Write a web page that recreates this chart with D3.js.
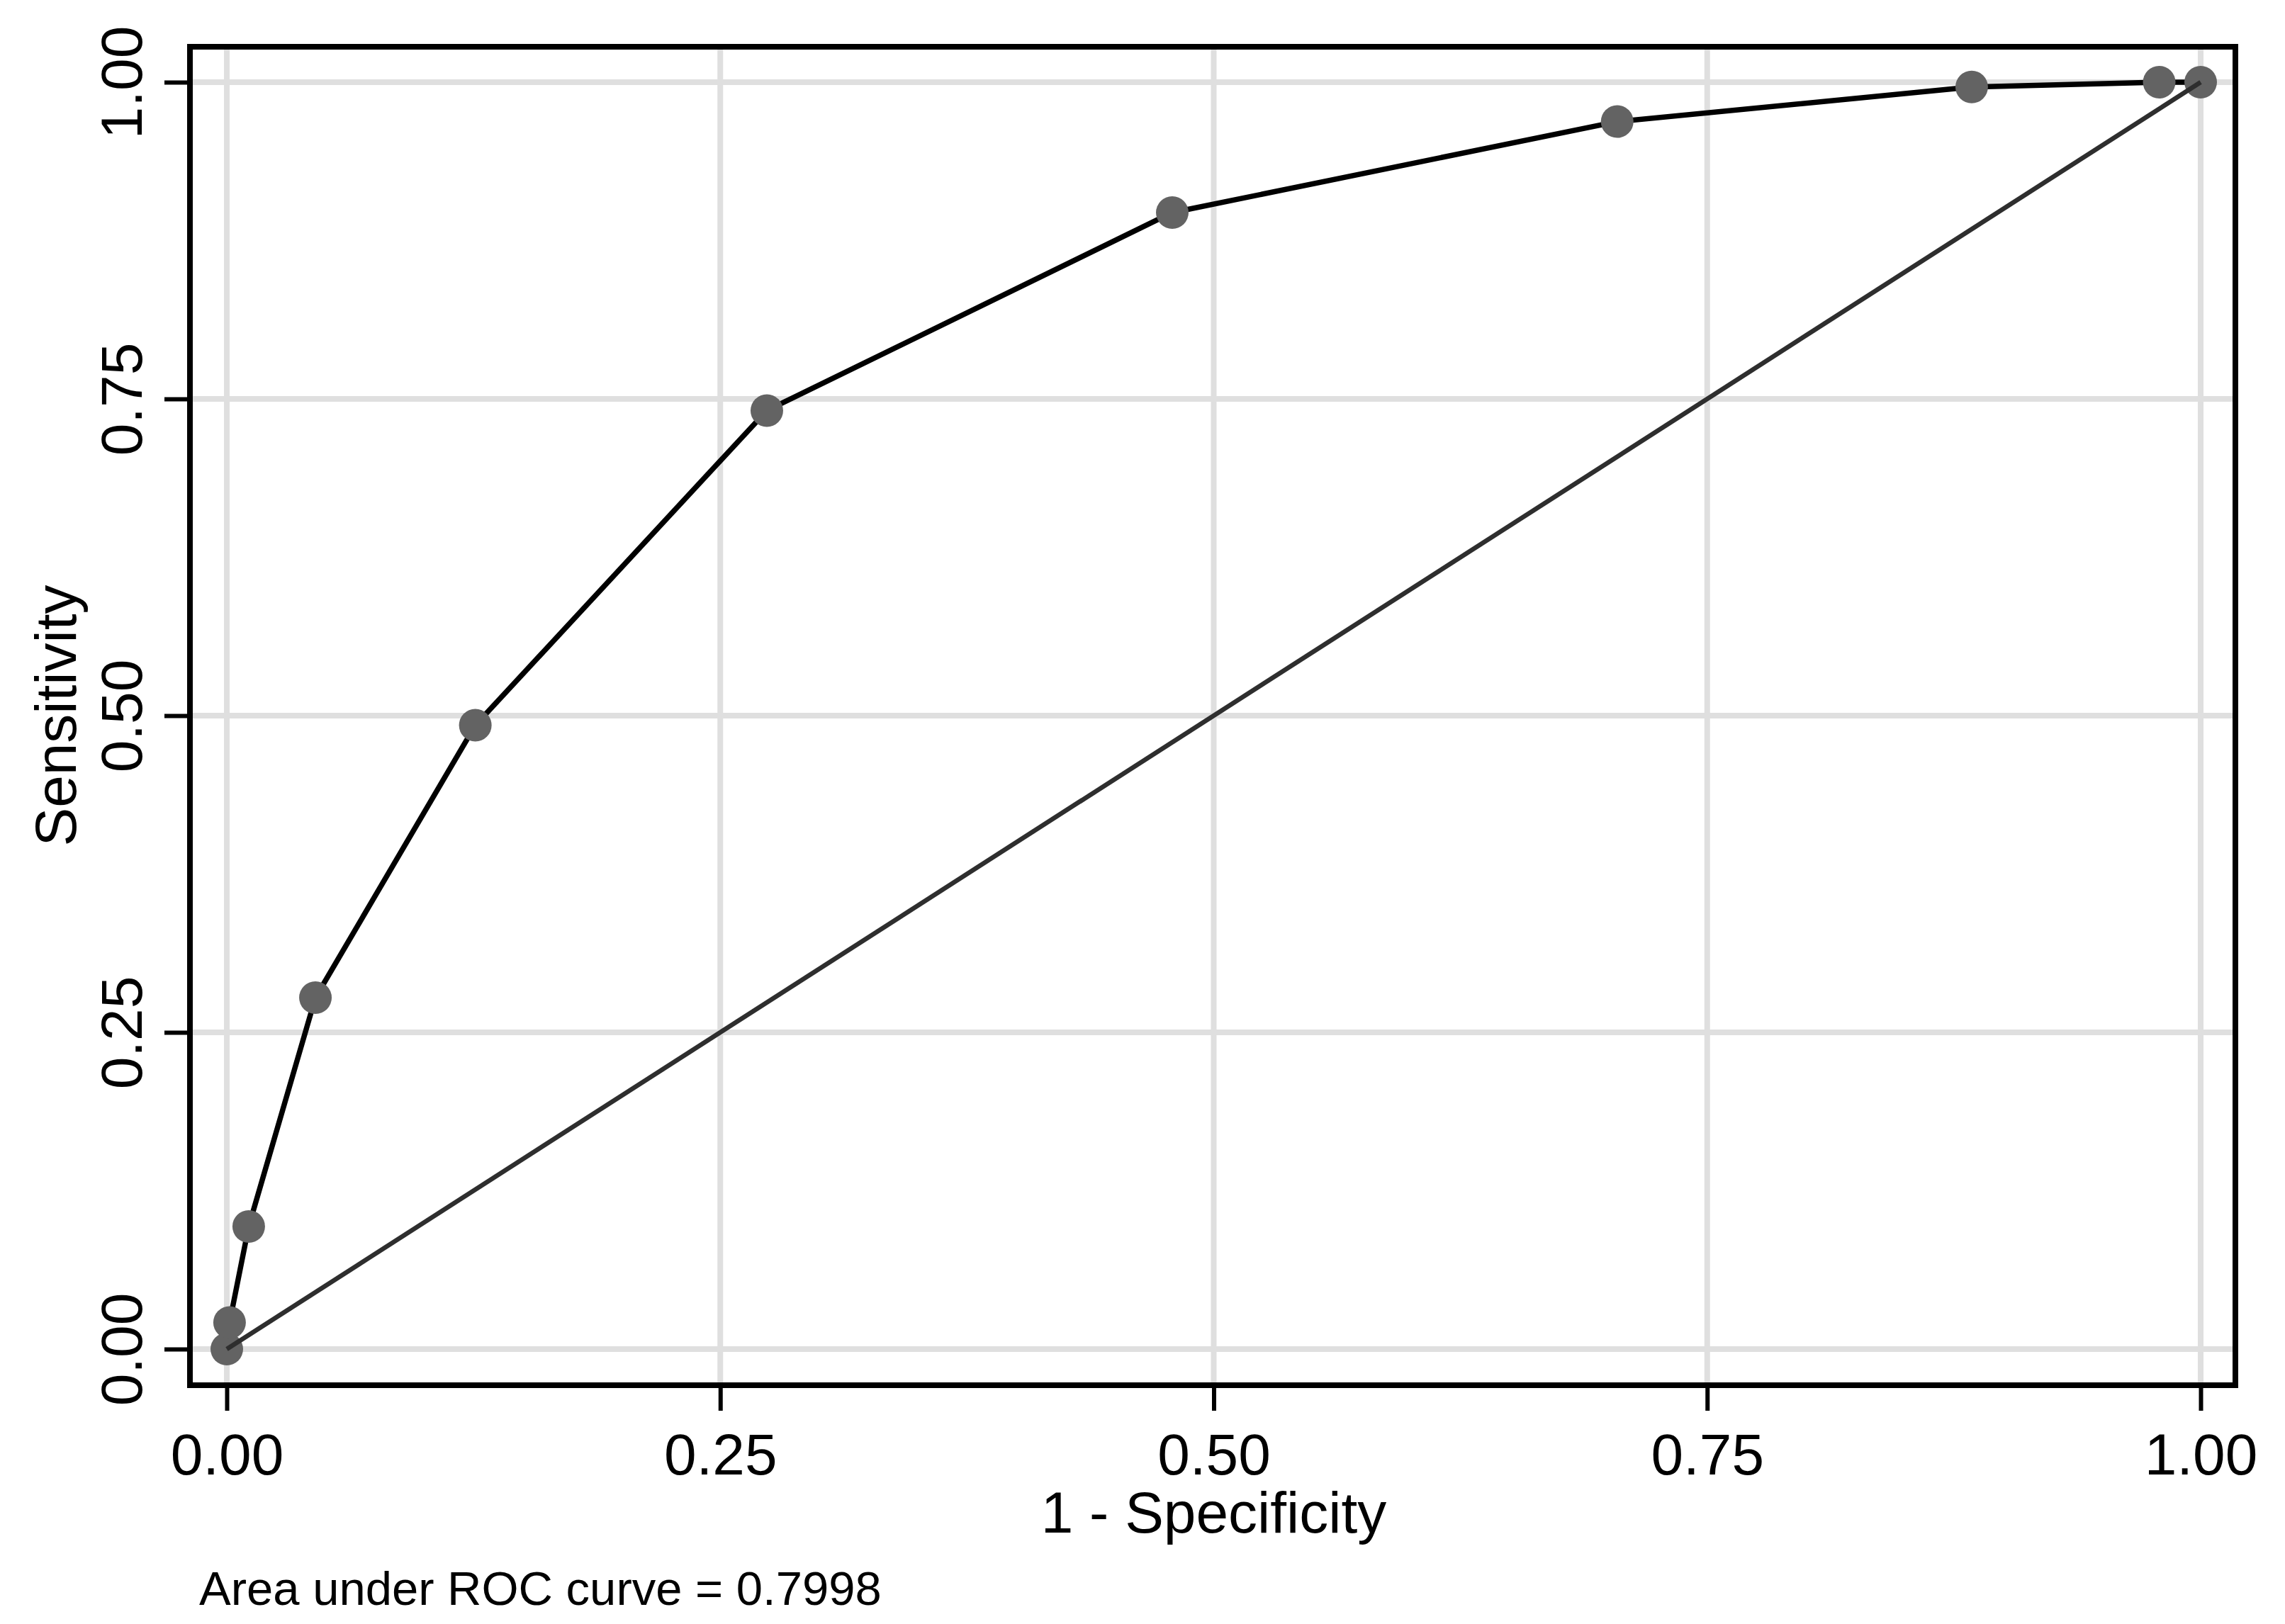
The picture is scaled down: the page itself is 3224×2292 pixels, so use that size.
<!DOCTYPE html>
<html>
<head>
  <title>ROC curve</title>
  <style>
    body { margin: 0; background: #fff; }
    svg text { font-family: "Liberation Sans", Arial, sans-serif; fill: #000; }
  </style>
</head>
<body>
  <script src="https://d3js.org/d3.v7.min.js"></script>
  <script>
    // points
    const fpr = [0, 0.0014, 0.0111, 0.0449, 0.1259, 0.2736, 0.479, 0.7044, 0.884, 0.979, 1];
    const tpr = [0, 0.021, 0.0968, 0.2774, 0.4924, 0.7408, 0.8971, 0.9689, 0.9962, 1, 1];
    const xTicks = [0, 0.25, 0.5, 0.75, 1];
    const yTicks = [0, 0.25, 0.5, 0.75, 1];
    const xTitle = "1 - Specificity";
    const yTitle = "Sensitivity";
    const note = "Area under ROC curve = 0.7998";

    const width = 3224;
    const height = 2292;

    // frame of the plot region (stroke centres)
    const frame = { left: 268, right: 3154, top: 66, bottom: 1955 };

    const svg = d3.select('body')
      .append('svg')
      .attr('width', width)
      .attr('height', height);

    const x = d3.scaleLinear().domain([0, 1]).range([320, 3105]);
    const y = d3.scaleLinear().domain([0, 1]).range([1904, 116]);

    const points = fpr.map(function(d, i) {
      return { x: d, y: tpr[i] };
    });

    // grid lines
    svg.append('g')
      .selectAll('line')
      .data(yTicks)
      .enter()
      .append('line')
      .attr('x1', frame.left + 4)
      .attr('x2', frame.right - 4)
      .attr('y1', function(d) { return y(d); })
      .attr('y2', function(d) { return y(d); })
      .attr('stroke', '#dfdfdf')
      .attr('stroke-width', 8);

    svg.append('g')
      .selectAll('line')
      .data(xTicks)
      .enter()
      .append('line')
      .attr('y1', frame.top + 4)
      .attr('y2', frame.bottom - 4)
      .attr('x1', function(d) { return x(d); })
      .attr('x2', function(d) { return x(d); })
      .attr('stroke', '#dfdfdf')
      .attr('stroke-width', 8);

    // frame
    svg.append('rect')
      .attr('x', frame.left)
      .attr('y', frame.top)
      .attr('width', frame.right - frame.left)
      .attr('height', frame.bottom - frame.top)
      .attr('fill', 'none')
      .attr('stroke', '#000')
      .attr('stroke-width', 8);

    // x axis
    const xAxis = svg.append('g')
      .attr('transform', 'translate(0,' + (frame.bottom + 4) + ')')
      .call(d3.axisBottom(x)
        .tickValues(xTicks)
        .tickFormat(d3.format('.2f'))
        .tickSize(32)
        .tickSizeOuter(0));
    xAxis.select('.domain').remove();
    xAxis.selectAll('.tick line').attr('stroke', '#000').attr('stroke-width', 6);
    xAxis.selectAll('.tick text')
      .attr('y', 2081 - (frame.bottom + 4))
      .attr('dy', 0)
      .style('font-size', '82px');

    // y axis
    const yAxis = svg.append('g')
      .attr('transform', 'translate(' + (frame.left - 4) + ',0)')
      .call(d3.axisLeft(y)
        .tickValues(yTicks)
        .tickFormat(d3.format('.2f'))
        .tickSize(32)
        .tickSizeOuter(0));
    yAxis.select('.domain').remove();
    yAxis.selectAll('.tick line').attr('stroke', '#000').attr('stroke-width', 6);
    yAxis.selectAll('.tick text')
      .attr('x', 0)
      .attr('y', 0)
      .attr('dy', 0)
      .attr('text-anchor', 'middle')
      .attr('transform', 'translate(' + (200 - (frame.left - 4)) + ',0) rotate(-90)')
      .style('font-size', '82px');

    // axis titles
    svg.append('text')
      .attr('x', (x(0) + x(1)) / 2)
      .attr('y', 2163)
      .attr('text-anchor', 'middle')
      .style('font-size', '82px')
      .text(xTitle);

    svg.append('text')
      .attr('transform', 'translate(107,' + (y(0) + y(1)) / 2 + ') rotate(-90)')
      .attr('text-anchor', 'middle')
      .style('font-size', '82px')
      .text(yTitle);

    // note under the plot
    svg.append('text')
      .attr('x', 281)
      .attr('y', 2265)
      .style('font-size', '67px')
      .text(note);

    // ROC curve
    const line = d3.line()
      .x(function(d) { return x(d.x); })
      .y(function(d) { return y(d.y); });

    svg.append('path')
      .datum(points)
      .attr('d', line)
      .attr('fill', 'none')
      .attr('stroke', '#000')
      .attr('stroke-width', 7.5)
      .attr('stroke-linejoin', 'round');

    svg.append('g')
      .selectAll('circle')
      .data(points)
      .enter()
      .append('circle')
      .attr('cx', function(d) { return x(d.x); })
      .attr('cy', function(d) { return y(d.y); })
      .attr('r', 23)
      .attr('fill', '#636363');

    // reference diagonal
    svg.append('path')
      .datum([{ x: 0, y: 0 }, { x: 1, y: 1 }])
      .attr('d', line)
      .attr('fill', 'none')
      .attr('stroke', '#2e2e2e')
      .attr('stroke-width', 6.5);
  </script>
</body>
</html>
